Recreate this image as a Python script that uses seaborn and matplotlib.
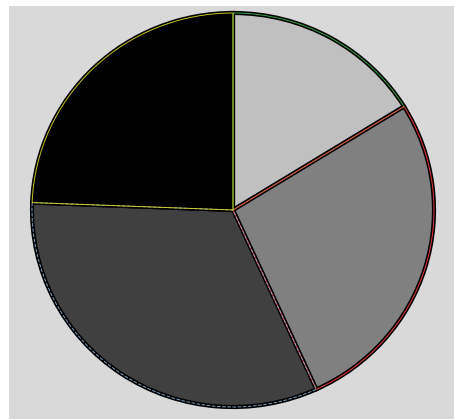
import matplotlib
matplotlib.use("Agg")
import matplotlib.pyplot as plt
import seaborn as sns

# slice shares, clockwise from 12 o'clock
labels = ["A", "B", "C", "D"]
values = [16.2, 27.0, 32.4, 24.4]
fill_colors = ["#c0c0c0", "#808080", "#404040", "#000000"]
edge_colors = ["#3cb44b", "#ff3b3b", "#8fb0d8", "#d8d820"]
edge_styles = ["-", "-", "--", "-"]

sns.set_style("white")

fig = plt.figure(figsize=(4.54, 4.19), dpi=100)
fig.patch.set_facecolor("white")

# grey panel behind the pie
bg = fig.add_axes([9 / 454, 0, 445 / 454, 413 / 419])
bg.set_facecolor("#d9d9d9")
bg.set_xticks([])
bg.set_yticks([])
sns.despine(ax=bg, left=True, bottom=True)

ax = fig.add_axes([32 / 454, 12 / 419, 402 / 454, 394 / 419])
ax.set_facecolor("none")

# first pass: filled wedges with a black outline
ax.pie(values, colors=fill_colors, startangle=90, counterclock=False,
       wedgeprops=dict(edgecolor="black", linewidth=3.0))

# second pass: thin coloured edge on every wedge
wedges, _ = ax.pie(values, startangle=90, counterclock=False,
                   wedgeprops=dict(fill=False, linewidth=0.7, alpha=0.9))
for w, c, ls in zip(wedges, edge_colors, edge_styles):
    w.set_edgecolor(c)
    w.set_linestyle(ls)

ax.set_aspect("auto")
ax.set_xlim(-1, 1)
ax.set_ylim(-1, 1)
ax.axis("off")

fig.savefig("out.png", dpi=100)
